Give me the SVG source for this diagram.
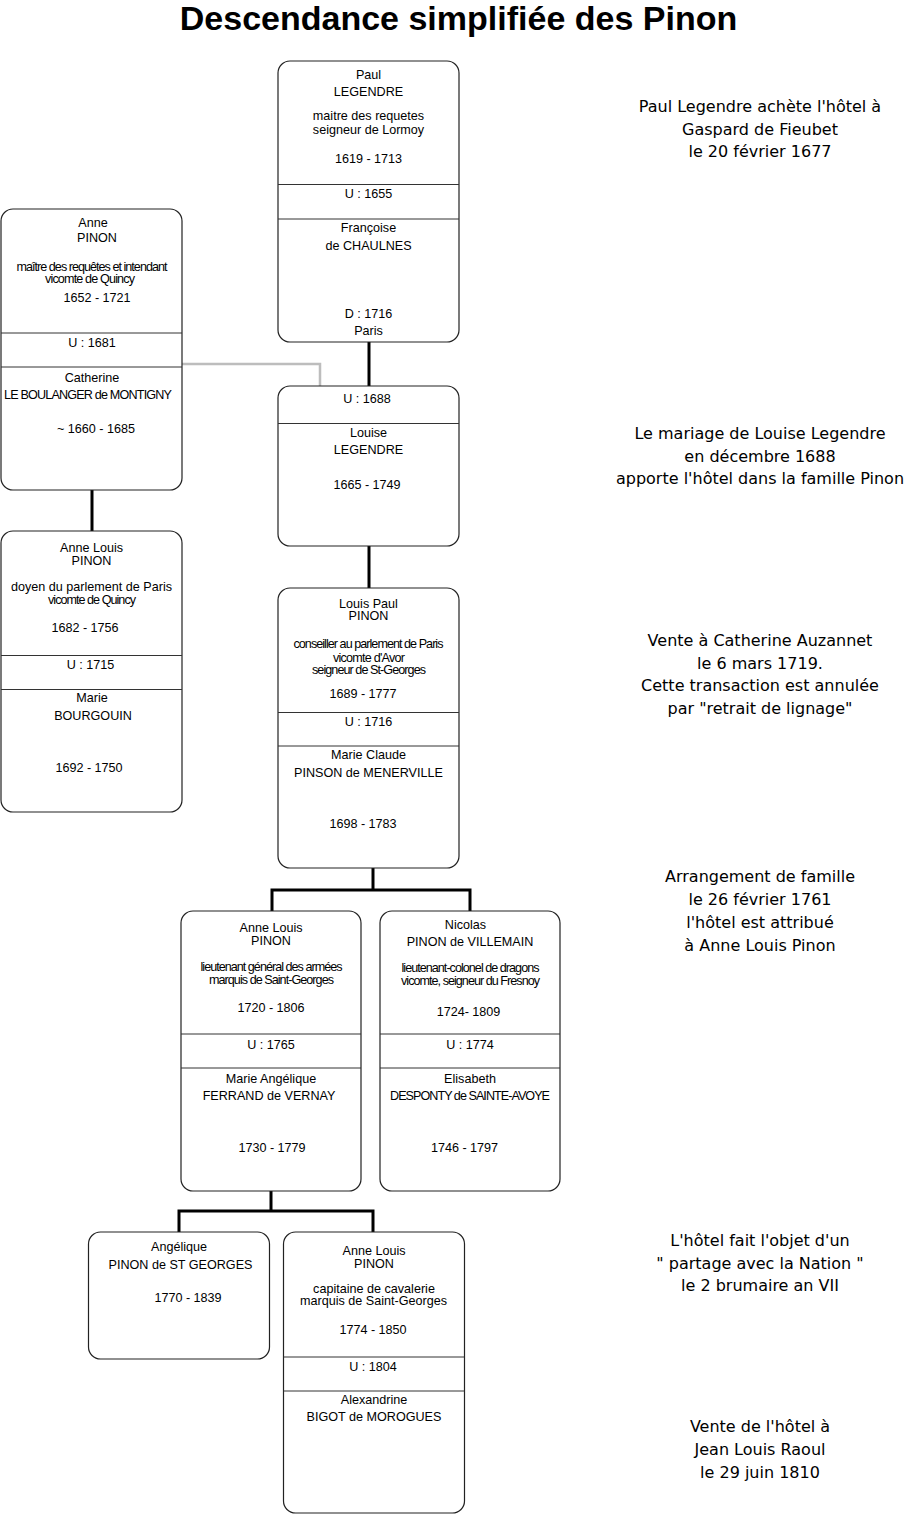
<svg xmlns="http://www.w3.org/2000/svg" width="904" height="1515" viewBox="0 0 904 1515">
<style>
.box{fill:#fff;stroke:#222;stroke-width:1.2}
.dv{stroke:#333;stroke-width:1;fill:none}
.t{font-family:"Liberation Sans",Arial,Helvetica,sans-serif;font-size:12.6px;text-anchor:middle;fill:#000}
.note{font-family:"DejaVu Sans",Verdana,sans-serif;font-size:16px;text-anchor:middle;fill:#000}
.title{font-family:"Liberation Sans",Arial,sans-serif;font-weight:bold;font-size:34px;text-anchor:middle;fill:#000}
.link{stroke:#000;stroke-width:3;fill:none}
.gray{stroke:#bdbdbd;stroke-width:2.5;fill:none}
</style>
<rect width="904" height="1515" fill="#fff"/>
<text class="title" x="458.5" y="30">Descendance simplifiée des Pinon</text>

<g id="connectors">
<path class="link" d="M369,341 V386"/>
<path class="link" d="M369,546 V588"/>
<path class="link" d="M92,490 V531"/>
<path class="gray" d="M182,364 H320 V386"/>
<path class="link" d="M373,868 V890"/>
<path class="link" d="M272,911 V890 H470 V911"/>
<path class="link" d="M271,1191 V1211"/>
<path class="link" d="M179,1232 V1211 H373 V1232"/>
</g>

<g id="paul-legendre">
<rect class="box" x="278" y="61" width="181" height="281" rx="12"/>
<line class="dv" x1="278" y1="184.5" x2="459" y2="184.5"/>
<line class="dv" x1="278" y1="219" x2="459" y2="219"/>
<text class="t" x="368.5" y="79">Paul</text>
<text class="t" x="368.5" y="96">LEGENDRE</text>
<text class="t" x="368.5" y="120">maitre des requetes</text>
<text class="t" x="368.5" y="134">seigneur de Lormoy</text>
<text class="t" x="368.5" y="163">1619 - 1713</text>
<text class="t" x="368.5" y="198">U : 1655</text>
<text class="t" x="368.5" y="232">Françoise</text>
<text class="t" x="368.5" y="250">de CHAULNES</text>
<text class="t" x="368.5" y="318">D : 1716</text>
<text class="t" x="368.5" y="335">Paris</text>
</g>

<g id="anne-pinon">
<rect class="box" x="1" y="209" width="181" height="281" rx="12"/>
<line class="dv" x1="1" y1="333" x2="182" y2="333"/>
<line class="dv" x1="1" y1="367" x2="182" y2="367"/>
<text class="t" x="93" y="227">Anne</text>
<text class="t" x="97" y="242">PINON</text>
<text class="t" x="92" y="271" textLength="151" lengthAdjust="spacing">maître des requêtes et intendant</text>
<text class="t" x="90" y="283" textLength="90" lengthAdjust="spacing">vicomte de Quincy</text>
<text class="t" x="97" y="302">1652 - 1721</text>
<text class="t" x="92" y="347">U : 1681</text>
<text class="t" x="92" y="382">Catherine</text>
<text class="t" x="88" y="399" textLength="168" lengthAdjust="spacing">LE BOULANGER de MONTIGNY</text>
<text class="t" x="96" y="433">~ 1660 - 1685</text>
</g>

<g id="louise-legendre">
<rect class="box" x="278" y="386" width="181" height="160" rx="12"/>
<line class="dv" x1="278" y1="423.5" x2="459" y2="423.5"/>
<text class="t" x="367" y="403">U : 1688</text>
<text class="t" x="368.5" y="437">Louise</text>
<text class="t" x="368.5" y="454">LEGENDRE</text>
<text class="t" x="367" y="489">1665 - 1749</text>
</g>

<g id="anne-louis-pinon-1682">
<rect class="box" x="1" y="531" width="181" height="281" rx="12"/>
<line class="dv" x1="1" y1="655.5" x2="182" y2="655.5"/>
<line class="dv" x1="1" y1="689.5" x2="182" y2="689.5"/>
<text class="t" x="91.5" y="552">Anne Louis</text>
<text class="t" x="91.5" y="565">PINON</text>
<text class="t" x="91.5" y="591">doyen du parlement de Paris</text>
<text class="t" x="92" y="604" textLength="88" lengthAdjust="spacing">vicomte de Quincy</text>
<text class="t" x="85" y="632">1682 - 1756</text>
<text class="t" x="90.5" y="669">U : 1715</text>
<text class="t" x="92" y="702">Marie</text>
<text class="t" x="93" y="720">BOURGOUIN</text>
<text class="t" x="89" y="772">1692 - 1750</text>
</g>

<g id="louis-paul-pinon">
<rect class="box" x="278" y="588" width="181" height="280" rx="12"/>
<line class="dv" x1="278" y1="712.5" x2="459" y2="712.5"/>
<line class="dv" x1="278" y1="746" x2="459" y2="746"/>
<text class="t" x="368.5" y="608">Louis Paul</text>
<text class="t" x="368.5" y="620">PINON</text>
<text class="t" x="368.5" y="648" textLength="150" lengthAdjust="spacing">conseiller au parlement de Paris</text>
<text class="t" x="369" y="661.5" textLength="72" lengthAdjust="spacing">vicomte d'Avor</text>
<text class="t" x="369" y="673.5" textLength="114" lengthAdjust="spacing">seigneur de St-Georges</text>
<text class="t" x="363" y="698">1689 - 1777</text>
<text class="t" x="368.5" y="726">U : 1716</text>
<text class="t" x="368.5" y="759">Marie Claude</text>
<text class="t" x="368.5" y="777">PINSON de MENERVILLE</text>
<text class="t" x="363" y="828">1698 - 1783</text>
</g>

<g id="anne-louis-pinon-1720">
<rect class="box" x="181" y="911" width="180" height="280" rx="12"/>
<line class="dv" x1="181" y1="1034" x2="361" y2="1034"/>
<line class="dv" x1="181" y1="1068" x2="361" y2="1068"/>
<text class="t" x="271" y="932">Anne Louis</text>
<text class="t" x="271" y="944.5">PINON</text>
<text class="t" x="271.5" y="971" textLength="142" lengthAdjust="spacing">lieutenant général des armées</text>
<text class="t" x="271.5" y="983.5" textLength="125" lengthAdjust="spacing">marquis de Saint-Georges</text>
<text class="t" x="271" y="1012">1720 - 1806</text>
<text class="t" x="271" y="1048.5">U : 1765</text>
<text class="t" x="271" y="1083">Marie Angélique</text>
<text class="t" x="269" y="1100">FERRAND de VERNAY</text>
<text class="t" x="272" y="1152">1730 - 1779</text>
</g>

<g id="nicolas-pinon">
<rect class="box" x="380" y="911" width="180" height="280" rx="12"/>
<line class="dv" x1="380" y1="1034" x2="560" y2="1034"/>
<line class="dv" x1="380" y1="1068" x2="560" y2="1068"/>
<text class="t" x="465.5" y="928.5">Nicolas</text>
<text class="t" x="470" y="946">PINON de VILLEMAIN</text>
<text class="t" x="470.5" y="972" textLength="138" lengthAdjust="spacing">lieutenant-colonel de dragons</text>
<text class="t" x="470.5" y="984.5" textLength="139" lengthAdjust="spacing">vicomte, seigneur du Fresnoy</text>
<text class="t" x="468.5" y="1016">1724- 1809</text>
<text class="t" x="470" y="1048.5">U : 1774</text>
<text class="t" x="470" y="1083">Elisabeth</text>
<text class="t" x="470" y="1100" textLength="160" lengthAdjust="spacing">DESPONTY de SAINTE-AVOYE</text>
<text class="t" x="464.5" y="1152">1746 - 1797</text>
</g>

<g id="angelique-pinon">
<rect class="box" x="88.5" y="1232" width="181" height="127" rx="12"/>
<text class="t" x="179" y="1251">Angélique</text>
<text class="t" x="180.5" y="1268.5">PINON de ST GEORGES</text>
<text class="t" x="188" y="1302">1770 - 1839</text>
</g>

<g id="anne-louis-pinon-1774">
<rect class="box" x="283.5" y="1232" width="181" height="281" rx="12"/>
<line class="dv" x1="283.5" y1="1357" x2="464.5" y2="1357"/>
<line class="dv" x1="283.5" y1="1391" x2="464.5" y2="1391"/>
<text class="t" x="374" y="1254.5">Anne Louis</text>
<text class="t" x="374" y="1268">PINON</text>
<text class="t" x="374" y="1292.5">capitaine de cavalerie</text>
<text class="t" x="373.5" y="1305">marquis de Saint-Georges</text>
<text class="t" x="373" y="1334">1774 - 1850</text>
<text class="t" x="373" y="1371">U : 1804</text>
<text class="t" x="374" y="1404">Alexandrine</text>
<text class="t" x="374" y="1421">BIGOT de MOROGUES</text>
</g>

<g id="notes">
<text class="note" x="760" y="112">Paul Legendre achète l'hôtel à</text>
<text class="note" x="760" y="134.5">Gaspard de Fieubet</text>
<text class="note" x="760" y="157">le 20 février 1677</text>
<text class="note" x="760" y="439">Le mariage de Louise Legendre</text>
<text class="note" x="760" y="461.5">en décembre 1688</text>
<text class="note" x="760" y="484">apporte l'hôtel dans la famille Pinon</text>
<text class="note" x="760" y="646">Vente à Catherine Auzannet</text>
<text class="note" x="760" y="668.5">le 6 mars 1719.</text>
<text class="note" x="760" y="691">Cette transaction est annulée</text>
<text class="note" x="760" y="713.5">par "retrait de lignage"</text>
<text class="note" x="760" y="882">Arrangement de famille</text>
<text class="note" x="760" y="905">le 26 février 1761</text>
<text class="note" x="760" y="928">l'hôtel est attribué</text>
<text class="note" x="760" y="951">à Anne Louis Pinon</text>
<text class="note" x="760" y="1246">L'hôtel fait l'objet d'un</text>
<text class="note" x="760" y="1268.5">" partage avec la Nation "</text>
<text class="note" x="760" y="1291">le 2 brumaire an VII</text>
<text class="note" x="760" y="1432">Vente de l'hôtel à</text>
<text class="note" x="760" y="1455">Jean Louis Raoul</text>
<text class="note" x="760" y="1478">le 29 juin 1810</text>
</g>
</svg>
